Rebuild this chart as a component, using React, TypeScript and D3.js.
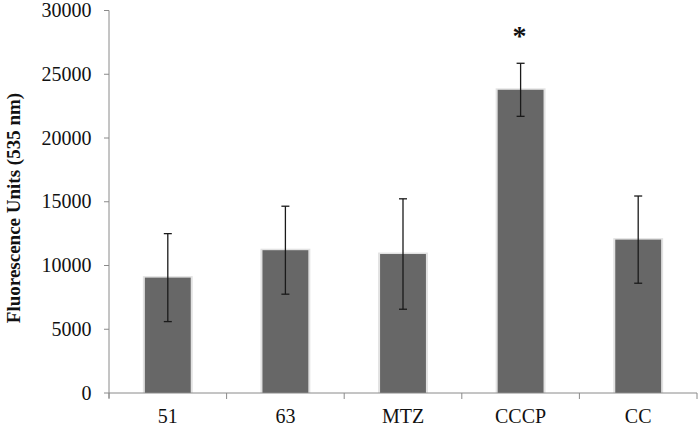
import React from "react";
import * as d3 from "d3";

const categories = ["51", "63", "MTZ", "CCCP", "CC"];
const means = [9050, 11200, 10900, 23780, 12030];
const errors = [3450, 3450, 4330, 2080, 3420];
const significant = [false, false, false, true, false];
const yTicks = [0, 5000, 10000, 15000, 20000, 25000, 30000];

const W = 700;
const H = 429;
const margin = { left: 109, right: 3, top: 10.5, bottom: 36 };

export default function App() {
  const x = d3
    .scaleBand<string>()
    .domain(categories)
    .range([margin.left, W - margin.right])
    .paddingInner(0)
    .paddingOuter(0);
  const y = d3.scaleLinear().domain([0, 30000]).range([H - margin.bottom, margin.top]);
  const bw = x.bandwidth() * 0.39;
  const font = "'Liberation Serif', 'Times New Roman', serif";
  const axisColor = "#8a8a8a";
  const y0 = y(0);
  const boundaries = categories.map((c) => x(c) as number).concat([W - margin.right]);

  return (
    <>
      <style>{`body{margin:0}`}</style>
      <svg width={W} height={H} style={{ display: "block", background: "#fff" }}>
        {/* bars */}
        {categories.map((c, i) => {
          const cx = (x(c) as number) + x.bandwidth() / 2;
          const top = y(means[i]);
          return (
            <g key={c}>
              <rect x={cx - bw / 2 - 2} y={top - 1.5} width={bw + 4} height={y0 - top + 1.5} fill="#e2e2e2" />
              <rect x={cx - bw / 2} y={top} width={bw} height={y0 - top} fill="#676767" />
            </g>
          );
        })}
        {/* axes */}
        <line x1={margin.left} x2={margin.left} y1={y(30000)} y2={y0 + 5} stroke={axisColor} strokeWidth={1} />
        <line x1={margin.left} x2={W - margin.right} y1={y0} y2={y0} stroke={axisColor} strokeWidth={1} />
        {yTicks.map((t) => (
          <g key={t}>
            <line x1={margin.left - 5} x2={margin.left} y1={y(t)} y2={y(t)} stroke={axisColor} />
            <text x={margin.left - 17.5} y={y(t)} dy="0.33em" textAnchor="end" fontFamily={font} fontSize={20} fill="#111">
              {t}
            </text>
          </g>
        ))}
        {boundaries.map((b, i) => (
          <line key={i} x1={b} x2={b} y1={y0} y2={y0 + 6} stroke={axisColor} />
        ))}
        {categories.map((c) => (
          <text
            key={c}
            x={(x(c) as number) + x.bandwidth() / 2}
            y={423.3}
            textAnchor="middle"
            fontFamily={font}
            fontSize={20}
            fill="#111"
          >
            {c}
          </text>
        ))}
        {/* error bars */}
        {categories.map((c, i) => {
          const cx = (x(c) as number) + x.bandwidth() / 2;
          const hi = y(means[i] + errors[i]);
          const lo = y(means[i] - errors[i]);
          return (
            <g key={c} stroke="#1a1a1a" strokeWidth={1.3}>
              <line x1={cx} x2={cx} y1={hi} y2={lo} />
              <line x1={cx - 4} x2={cx + 4} y1={hi} y2={hi} />
              <line x1={cx - 4} x2={cx + 4} y1={lo} y2={lo} />
            </g>
          );
        })}
        {categories.map((c, i) =>
          significant[i] ? (
            <text
              key={c}
              x={(x(c) as number) + x.bandwidth() / 2 - 1}
              y={y(means[i] + errors[i]) - 18}
              textAnchor="middle"
              fontFamily={font}
              fontWeight="bold"
              fontSize={28}
              fill="#111"
            >
              *
            </text>
          ) : null
        )}
        <text
          transform={`translate(20, ${208}) rotate(-90)`}
          textAnchor="middle"
          fontFamily={font}
          fontWeight="bold"
          fontSize={19}
          fill="#111"
        >
          Fluorescence Units (535 nm)
        </text>
      </svg>
    </>
  );
}
